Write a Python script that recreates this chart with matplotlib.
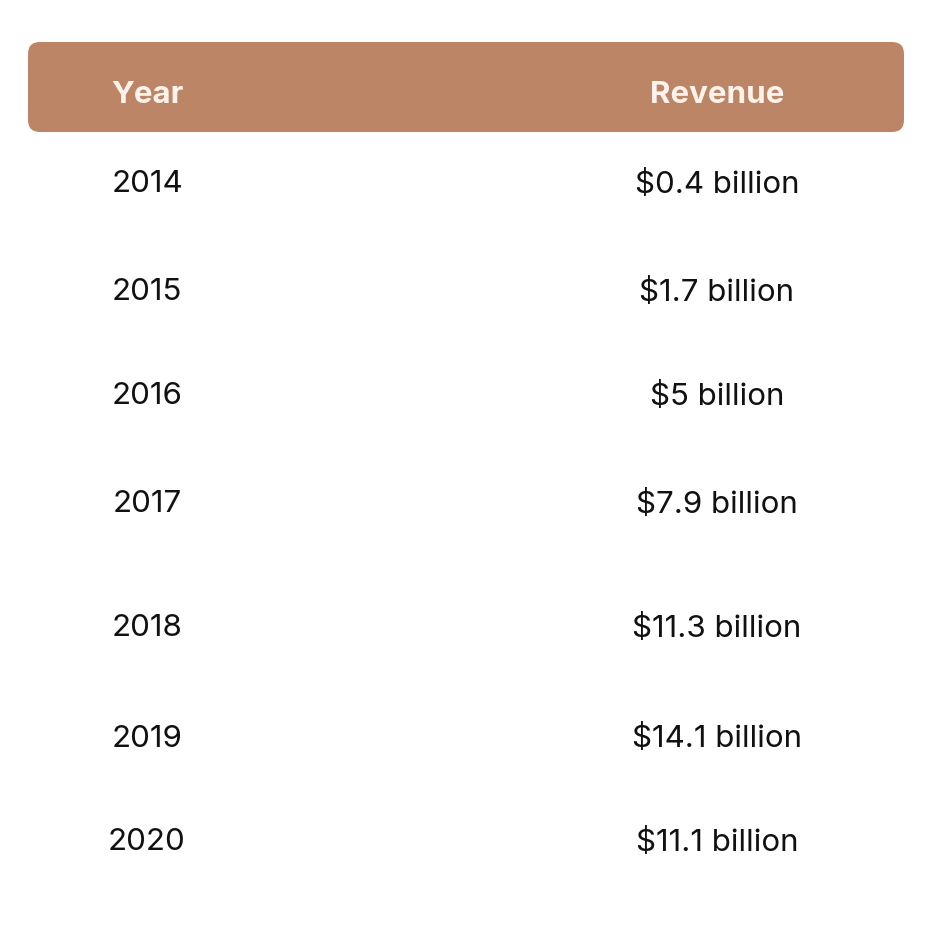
import matplotlib.pyplot as plt
from matplotlib.patches import FancyBboxPatch

years = ['2014', '2015', '2016', '2017', '2018', '2019', '2020']
revenue = ['$0.4 billion', '$1.7 billion', '$5 billion', '$7.9 billion',
           '$11.3 billion', '$14.1 billion', '$11.1 billion']
headers = ['Year', 'Revenue']

# layout (pixel coords, y down)
row_y = [184, 292, 396, 504, 628, 739, 842]
col_x = [147, 717]

fig = plt.figure(figsize=(9.4, 9.4), dpi=100)
ax = fig.add_axes([0, 0, 1, 1])
ax.set_xlim(0, 940)
ax.set_ylim(940, 0)
ax.axis('off')

box = FancyBboxPatch((28 + 12, 42 + 12), 876 - 24, 90 - 24,
                     boxstyle='round,pad=12', fc='#bc8565', ec='none')
ax.add_patch(box)

for x, h in zip(col_x, headers):
    ax.text(x, 95, h, ha='center', va='center', color='#fdf3ec',
            fontsize=22.5, fontweight='bold', family='Inter')

for y, yr, rev in zip(row_y, years, revenue):
    ax.text(col_x[0], y, yr, ha='center', va='center', color='#111111',
            fontsize=22.5, family='Inter')
    ax.text(col_x[1], y, rev, ha='center', va='center', color='#111111',
            fontsize=22.5, family='Inter')

fig.savefig('out.png', dpi=100, facecolor='white')
